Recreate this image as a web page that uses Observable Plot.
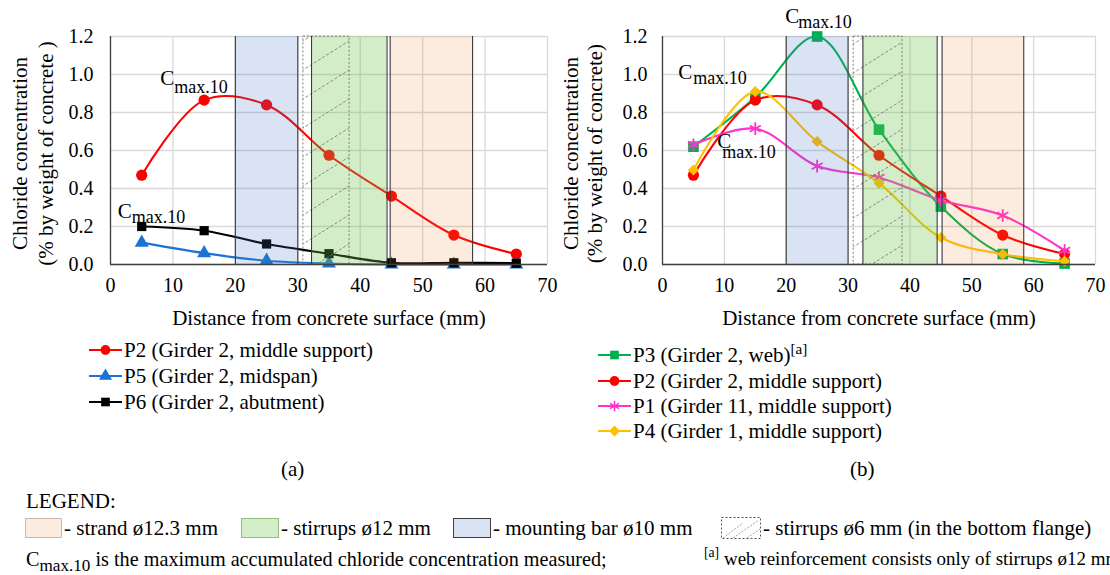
<!DOCTYPE html>
<html>
<head>
<meta charset="utf-8">
<script src="https://cdn.jsdelivr.net/npm/d3@7"></script>
<script src="https://cdn.jsdelivr.net/npm/@observablehq/plot@0.6"></script>
<style>
  body { margin: 0; background: #fff; }
  #page { position: relative; width: 1110px; height: 575px; overflow: hidden;
          font-family: "Liberation Serif", "Times New Roman", serif; color: #000; background: #fff; }
  .abs { position: absolute; white-space: nowrap; }
  .row { display: flex; align-items: center; }
  sub.cm { font-size: 0.85em; vertical-align: -0.32em; line-height: 0; }
  sup.fn { font-size: 0.72em; vertical-align: 0.55em; line-height: 0; }
</style>
</head>
<body>
<div id="page"></div>
<script>
// Sampling depths (mm) and chloride concentration (% by weight of concrete)
const depth = [5, 15, 25, 35, 45, 55, 65];
const xTicks = [0, 10, 20, 30, 40, 50, 60, 70];
const yTicks = [0, 0.2, 0.4, 0.6, 0.8, 1.0, 1.2];

const p2 = [0.47, 0.865, 0.84, 0.575, 0.36, 0.155, 0.055];
const p5 = [0.115, 0.06, 0.02, 0.005, 0.0, 0.0, 0.0];
const p6 = [0.20, 0.178, 0.108, 0.057, 0.009, 0.009, 0.007];
const p3 = [0.62, 0.88, 1.20, 0.71, 0.305, 0.055, 0.005];
const p1 = [0.63, 0.715, 0.518, 0.458, 0.338, 0.258, 0.074];
const p4 = [0.497, 0.91, 0.647, 0.428, 0.142, 0.054, 0.017];

// Reinforcement zones (depth range, mm) for each section
const zonesA = {bar: [20, 30], stirrup12: [32.2, 44.3], strand: [44.8, 58], stirrup6: [30.9, 38.3]};
const zonesB = {bar: [20, 30], stirrup12: [32.4, 44.4], strand: [45.2, 58.4], stirrup6: [30.9, 38.8]};

const zoneStyle = {
  bar:       {fill: "#4472c4", opacity: 0.2},
  stirrup12: {fill: "#6cc24a", opacity: 0.3},
  strand:    {fill: "#ed7d31", opacity: 0.15}
};

const seriesA = [
  {label: "P2 (Girder 2, middle support)", values: p2, color: "#ff0000", symbol: "circle", r: 5.6},
  {label: "P5 (Girder 2, midspan)", values: p5, color: "#1b73d3", symbol: "triangle", r: 5.2},
  {label: "P6 (Girder 2, abutment)", values: p6, color: "#000000", symbol: "square", r: 5.2}
];
const seriesB = [
  {label: "P3 (Girder 2, web)", note: "[a]", values: p3, color: "#00b050", symbol: "square", r: 6},
  {label: "P2 (Girder 2, middle support)", values: p2, color: "#ff0000", symbol: "circle", r: 5.6},
  {label: "P1 (Girder 11, middle support)", values: p1, color: "#ff33cc", symbol: "asterisk", r: 6},
  {label: "P4 (Girder 1, middle support)", values: p4, color: "#ffc000", symbol: "diamond2", r: 5}
];

const FONT = "'Liberation Serif', 'Times New Roman', serif";

function hatchDefs(id) {
  return () => {
    const defs = d3.create("svg:defs");
    const p = defs.append("pattern").attr("id", id).attr("patternUnits", "userSpaceOnUse")
      .attr("width", 46).attr("height", 29);
    p.append("line").attr("x1", 0).attr("y1", 29).attr("x2", 46).attr("y2", 0)
      .attr("stroke", "#6f6f6f").attr("stroke-width", 0.8).attr("stroke-dasharray", "3,2");
    return defs.node();
  };
}

// "C" with subscript "max.10", placed relative to a measured point
function cmax(x, y, c, s) {
  return [
    Plot.text([0], {x: () => x, y: () => y, text: () => "C", dx: c[0], dy: c[1],
      textAnchor: "start", lineAnchor: "bottom", fontSize: 21, fill: "#000"}),
    Plot.text([0], {x: () => x, y: () => y, text: () => "max.10", dx: s[0], dy: s[1],
      textAnchor: "start", lineAnchor: "bottom", fontSize: 18, fill: "#000"})
  ];
}

function chart({series, zones, hatchId, marginLeft, marginRight, yPad, titles, labels}) {
  const seriesMarks = series.flatMap(s => {
    const data = depth.map((d, i) => ({depth: d, value: s.values[i]}));
    const star = s.symbol === "asterisk";
    return [
      Plot.line(data, {x: "depth", y: "value", stroke: s.color, strokeWidth: 2.1, curve: "catmull-rom"}),
      Plot.dot(data, {x: "depth", y: "value", symbol: s.symbol, r: s.r,
        fill: star ? "none" : s.color, stroke: star ? s.color : "none", strokeWidth: 1.8})
    ];
  });
  const zoneMarks = ["bar", "stirrup12", "strand"].map(k =>
    Plot.rect([zones[k]], {x1: d => d[0], x2: d => d[1], y1: 0, y2: 1.2,
      fill: zoneStyle[k].fill, fillOpacity: zoneStyle[k].opacity}));
  const edges = ["bar", "stirrup12", "strand"].flatMap(k => zones[k]);
  return Plot.plot({
    width: 555, height: 335,
    marginLeft, marginRight, marginTop: 36, marginBottom: 71,
    x: {domain: [0, 70]},
    y: {domain: [0, 1.2]},
    style: {fontFamily: FONT, fontSize: "20px", color: "#000", background: "transparent", overflow: "visible"},
    marks: [
      hatchDefs(hatchId),
      Plot.gridX(xTicks, {stroke: "#d9d9d9", strokeOpacity: 1, strokeWidth: 1.3}),
      Plot.gridY(yTicks, {stroke: "#d9d9d9", strokeOpacity: 1, strokeWidth: 1.3}),
      ...seriesMarks,
      ...zoneMarks,
      Plot.rect([zones.stirrup6], {x1: d => d[0], x2: d => d[1], y1: 0, y2: 1.2,
        fill: `url(#${hatchId})`, stroke: "#6f6f6f", strokeWidth: 0.9, strokeDasharray: "2,2"}),
      Plot.ruleX(edges, {y1: 0, y2: 1.2, stroke: "#3a3a3a", strokeWidth: 1.1}),
      Plot.ruleX([0], {y1: 0, y2: 1.2, stroke: "#404040", strokeWidth: 1.3}),
      Plot.ruleY([0], {stroke: "#404040", strokeWidth: 1.3}),
      Plot.axisX(xTicks, {tickSize: 0, tickPadding: 13, label: null, fontSize: 20}),
      Plot.axisY(yTicks, {tickSize: 0, tickPadding: yPad, tickFormat: d3.format(".1f"), label: null, fontSize: 20}),
      Plot.text(["Distance from concrete surface (mm)"], {frameAnchor: "bottom", dy: 54, fontSize: 21,
        lineAnchor: "middle", textAnchor: "middle"}),
      Plot.text([titles[0]], {frameAnchor: "left", dx: titles[2], dy: 3, rotate: -90, fontSize: 21,
        lineAnchor: "middle", textAnchor: "middle"}),
      Plot.text([titles[1]], {frameAnchor: "left", dx: titles[3], dy: 3, rotate: -90, fontSize: 21,
        lineAnchor: "middle", textAnchor: "middle"}),
      ...labels
    ]
  });
}

const page = document.getElementById("page");

function place(node, left, top) {
  const d = document.createElement("div");
  d.className = "abs";
  d.style.left = left + "px";
  d.style.top = top + "px";
  d.appendChild(node);
  page.appendChild(d);
  return d;
}

const chartA = chart({
  series: seriesA, zones: zonesA, hatchId: "hatchA", marginLeft: 110, marginRight: 8, yPad: 17,
  titles: ["Chloride concentration", "(% by weight of concrete )", -90, -64],
  labels: [...cmax(depth[1], p2[1], [-44, -15], [-30, -7]), ...cmax(depth[0], p6[0], [-24, -9], [-10, -4])]
});
const chartB = chart({
  series: seriesB, zones: zonesB, hatchId: "hatchB", marginLeft: 107, marginRight: 15, yPad: 15,
  titles: ["Chloride concentration", "(% by weight of concrete)", -91, -67],
  labels: [...cmax(depth[2], p3[2], [-32, -14], [-19, -9]),
           ...cmax(depth[1], p4[1], [-77, -13], [-62, -8]),
           ...cmax(depth[1], p1[1], [-38, 19], [-33, 29])]
});
place(chartA, 0, 0);
place(chartB, 555, 0);

// Series legends under each chart
const symbolFns = {circle: d3.symbolCircle, triangle: d3.symbolTriangle, square: d3.symbolSquare,
                   diamond2: d3.symbolDiamond2, asterisk: d3.symbolAsterisk};
function sample(s, size) {
  const svg = d3.create("svg").attr("width", 33).attr("height", 20).style("display", "block");
  svg.append("line").attr("x1", 0).attr("x2", 33).attr("y1", 10).attr("y2", 10)
    .attr("stroke", s.color).attr("stroke-width", 2);
  const star = s.symbol === "asterisk";
  svg.append("path").attr("transform", "translate(16.5,10)").attr("d", d3.symbol(symbolFns[s.symbol], size)())
    .attr("fill", star ? "none" : s.color).attr("stroke", star ? s.color : "none").attr("stroke-width", 1.6);
  return svg.node();
}
function legend(series, left, rows) {
  series.forEach((s, i) => {
    const row = document.createElement("div");
    row.className = "row";
    row.style.fontSize = "21px";
    row.style.height = "24px";
    row.appendChild(sample(s, 75));
    const t = document.createElement("span");
    t.style.marginLeft = "2px";
    t.innerHTML = s.label + (s.note ? `<sup class="fn">${s.note}</sup>` : "");
    row.appendChild(t);
    place(row, left, rows[i] - 12);
  });
}
legend(seriesA, 89, [350, 376, 402]);
legend(seriesB, 598, [355, 381, 406, 431]);

function caption(html, left, cy, size) {
  const d = document.createElement("div");
  d.style.fontSize = size + "px";
  d.style.lineHeight = "1.2";
  d.innerHTML = html;
  return place(d, left, cy - size * 0.62);
}
caption("(a)", 281, 470, 21);
caption("(b)", 850, 470, 21);
caption("LEGEND:", 26, 502, 21);

// Reinforcement key
function swatch(k, w) {
  const d = document.createElement("div");
  d.style.width = w + "px";
  d.style.height = "20px";
  d.style.boxSizing = "border-box";
  const st = zoneStyle[k];
  const c = d3.rgb(st.fill);
  const mix = v => Math.round(255 * (1 - st.opacity) + v * st.opacity);
  d.style.background = `rgb(${mix(c.r)},${mix(c.g)},${mix(c.b)})`;
  d.style.border = k === "bar" ? "1px solid #404040" : k === "stirrup12" ? "1px solid #8fbf7a" : "1px solid #c9b8ad";
  return d;
}
function hatchSwatch() {
  const svg = d3.create("svg").attr("width", 40).attr("height", 22).style("display", "block");
  [[2, 21, 22, 6], [12, 21, 38, 3], [26, 21, 39, 12]].forEach(([a, b, c, e]) =>
    svg.append("line").attr("x1", a).attr("y1", b).attr("x2", c).attr("y2", e)
      .attr("stroke", "#8a8a8a").attr("stroke-width", 0.8).attr("stroke-dasharray", "2,1.5"));
  svg.append("rect").attr("x", 0.5).attr("y", 0.5).attr("width", 39).attr("height", 21)
    .attr("fill", "none").attr("stroke", "#555").attr("stroke-dasharray", "2,2");
  return svg.node();
}
const keyItems = [
  {node: () => swatch("strand", 37), text: "- strand ø12.3 mm", left: 25},
  {node: () => swatch("stirrup12", 38), text: "- stirrups ø12 mm", left: 241},
  {node: () => swatch("bar", 38), text: "- mounting bar ø10 mm", left: 453},
  {node: () => hatchSwatch(), text: "- stirrups ø6 mm (in the bottom flange)", left: 721}
];
keyItems.forEach(it => {
  const row = document.createElement("div");
  row.className = "row";
  row.style.fontSize = "21px";
  row.style.height = "24px";
  row.appendChild(it.node());
  const t = document.createElement("span");
  t.style.marginLeft = "2px";
  t.textContent = it.text;
  row.appendChild(t);
  place(row, it.left, 528 - 12);
});

caption('C<sub class="cm">max.10</sub> is the maximum accumulated chloride concentration measured;', 26, 560, 20.2);
caption('<sup class="fn">[a]</sup> web reinforcement consists only of stirrups ø12 mm', 704, 560, 19);
</script>
</body>
</html>
